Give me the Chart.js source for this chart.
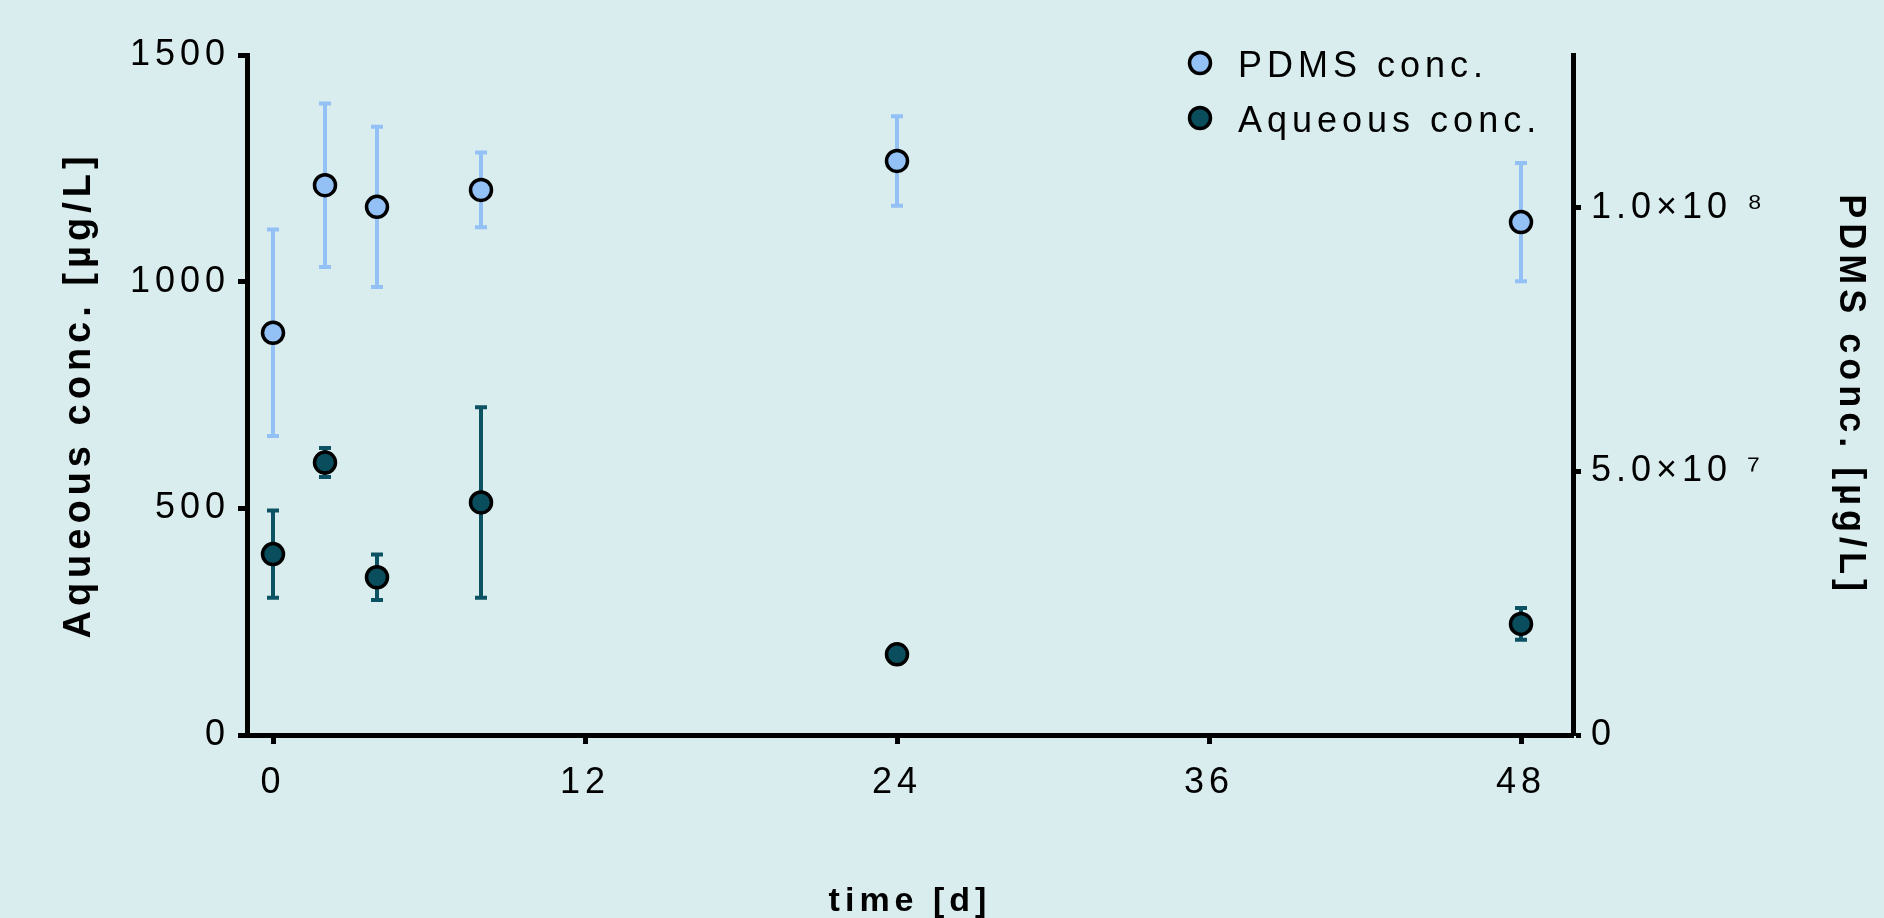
<!DOCTYPE html>
<html>
<head>
<meta charset="utf-8">
<title>PDMS conc. / Aqueous conc.</title>
<script src="https://cdn.jsdelivr.net/npm/chart.js@4.4.1/dist/chart.umd.min.js"></script>
<style>
  html, body { margin: 0; padding: 0; background: #daedee; }
  #grafico { display: block; }
</style>
</head>
<body>
<canvas id="grafico" width="1884" height="918"></canvas>
<script>
// dados
var tempos = [0, 2, 4, 8, 24, 48];
var pdmsMedia = [7.63e7, 1.043e8, 1.002e8, 1.034e8, 1.089e8, 9.73e7];
var pdmsDesvio = [1.96e7, 1.55e7, 1.52e7, 0.71e7, 0.85e7, 1.12e7];
var aquosoMedia = [399, 601, 348, 513, 178, 245];
var aquosoDesvio = [96, 32, 50, 210, 8, 35];

var ticksX = [0, 12, 24, 36, 48];
var ticksEsq = [0, 500, 1000, 1500];
var ticksDir = [0, 5e7, 1e8];
var rotulosDir = ['0', '5.0\u00d710 \u2077', '1.0\u00d710 \u2078'];

(function () {
  var FONTE = '"Liberation Sans", Arial, sans-serif';

  function pontos(medias) {
    return tempos.map(function (t, i) { return { x: t, y: medias[i] }; });
  }

  function fixarTicks(valores) {
    return function (escala) {
      escala.ticks = valores.map(function (v) { return { value: v }; });
    };
  }

  var espacamento = {
    id: 'espacamento',
    beforeUpdate: function (chart) { chart.ctx.letterSpacing = '5px'; },
    beforeLayout: function (chart) { chart.ctx.letterSpacing = '5px'; },
    beforeDraw: function (chart) { chart.ctx.letterSpacing = '5px'; }
  };

  var barrasErro = {
    id: 'barrasErro',
    beforeDatasetsDraw: function (chart) {
      var ctx = chart.ctx;
      var escX = chart.scales.x;
      chart.data.datasets.forEach(function (ds) {
        var escY = chart.scales[ds.yAxisID];
        ctx.save();
        ctx.strokeStyle = ds.corErro;
        ctx.lineWidth = 4;
        ds.data.forEach(function (p, j) {
          var x = escX.getPixelForValue(p.x);
          var yCima = escY.getPixelForValue(p.y + ds.erros[j]);
          var yBaixo = escY.getPixelForValue(p.y - ds.erros[j]);
          ctx.beginPath();
          ctx.moveTo(x, yCima); ctx.lineTo(x, yBaixo);
          ctx.moveTo(x - 6, yCima); ctx.lineTo(x + 6, yCima);
          ctx.moveTo(x - 6, yBaixo); ctx.lineTo(x + 6, yBaixo);
          ctx.stroke();
        });
        ctx.restore();
      });
    }
  };

  var legendaInterna = {
    id: 'legendaInterna',
    afterDraw: function (chart) {
      var ctx = chart.ctx;
      var area = chart.chartArea;
      var cx = area.right - 373;
      ctx.save();
      ctx.font = '36px ' + FONTE;
      ctx.textBaseline = 'middle';
      ctx.textAlign = 'left';
      chart.data.datasets.forEach(function (ds, i) {
        var cy = area.top + 8 + i * 55;
        ctx.beginPath();
        ctx.arc(cx, cy, 10.5, 0, Math.PI * 2);
        ctx.fillStyle = ds.backgroundColor;
        ctx.fill();
        ctx.lineWidth = 3.5;
        ctx.strokeStyle = '#000';
        ctx.stroke();
        ctx.fillStyle = '#000';
        ctx.fillText(ds.label, cx + 38, cy + 4);
      });
      ctx.restore();
    }
  };

  function eixoY(lado, max, valores, largura, titulo, padTitulo, tl) {
    return {
      type: 'linear',
      position: lado,
      min: 0,
      max: max,
      afterBuildTicks: fixarTicks(valores),
      afterFit: function (s) { s.width = largura; },
      grid: { display: true, drawOnChartArea: false, drawTicks: true, tickLength: tl, tickWidth: 5, tickColor: '#000' },
      border: { display: true, color: '#000', width: 5 },
      ticks: {
        color: '#000',
        font: { size: 36, family: FONTE },
        padding: 8,
        autoSkip: false,
        callback: function (v) { return String(v); }
      },
      title: {
        display: true,
        text: titulo.texto,
        color: '#000',
        font: { size: titulo.tamanho, weight: 'bold', family: FONTE },
        padding: { top: padTitulo, bottom: 0 }
      }
    };
  }

  var yEsq = eixoY('left', 1500, ticksEsq, 247, { texto: 'Aqueous conc. [\u00b5g/L]', tamanho: 38 }, 57, 9);
  var yDir = eixoY('right', 1.29e8, ticksDir, 311, { texto: 'PDMS conc. [\u00b5g/L]', tamanho: 36 }, 12, 8);
  yDir.ticks.padding = 10;
  yDir.ticks.callback = function (v) {
    var i = ticksDir.indexOf(v);
    return i === -1 ? '' : rotulosDir[i];
  };

  new Chart(document.getElementById('grafico'), {
    type: 'scatter',
    data: {
      datasets: [{
        label: 'PDMS conc.',
        data: pontos(pdmsMedia),
        erros: pdmsDesvio,
        corErro: '#93c0f5',
        yAxisID: 'yDir',
        backgroundColor: '#94c1f5',
        borderColor: '#000',
        pointRadius: 10.5,
        pointBorderWidth: 3.5
      }, {
        label: 'Aqueous conc.',
        data: pontos(aquosoMedia),
        erros: aquosoDesvio,
        corErro: '#0c5263',
        yAxisID: 'yEsq',
        backgroundColor: '#0a4d5c',
        borderColor: '#000',
        pointRadius: 10.5,
        pointBorderWidth: 3.5
      }]
    },
    options: {
      responsive: false,
      animation: false,
      devicePixelRatio: 1,
      layout: { padding: { top: 55, left: 0, right: 0, bottom: 0 } },
      plugins: { legend: { display: false }, tooltip: { enabled: false } },
      scales: {
        x: {
          type: 'linear',
          min: -1,
          max: 50,
          afterBuildTicks: fixarTicks(ticksX),
          afterFit: function (s) { s.height = 183; },
          grid: { display: true, drawOnChartArea: false, drawTicks: true, tickLength: 9, tickWidth: 5, tickColor: '#000' },
          border: { display: true, color: '#000', width: 5 },
          ticks: { color: '#000', font: { size: 36, family: FONTE }, padding: 17, maxRotation: 0, autoSkip: false },
          title: {
            display: true,
            text: 'time [d]',
            color: '#000',
            font: { size: 34, weight: 'bold', family: FONTE },
            padding: { top: 0, bottom: -4 }
          }
        },
        yEsq: yEsq,
        yDir: yDir
      }
    },
    plugins: [espacamento, barrasErro, legendaInterna]
  });
})();
</script>
</body>
</html>
